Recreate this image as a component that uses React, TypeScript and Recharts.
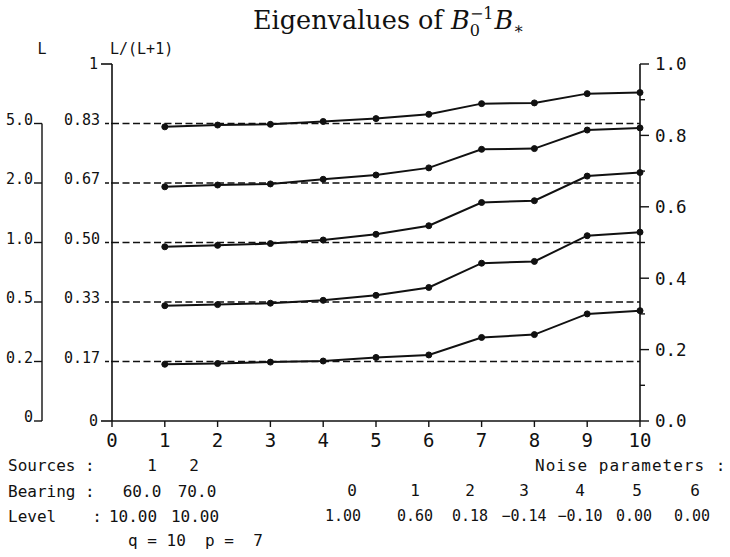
import { LineChart, Line, XAxis, YAxis, ReferenceLine } from 'recharts';

// x positions of the eigenvalue points
const X_POINTS = [1, 2, 3, 4, 5, 6, 7, 8, 9, 10];
const X_TICKS = [0, 1, 2, 3, 4, 5, 6, 7, 8, 9, 10];

// eigenvalues as L/(L+1), top curve first
const SERIES_1 = [0.824, 0.829, 0.831, 0.839, 0.847, 0.859, 0.889, 0.891, 0.917, 0.92];
const SERIES_2 = [0.656, 0.661, 0.664, 0.677, 0.689, 0.709, 0.761, 0.763, 0.815, 0.821];
const SERIES_3 = [0.488, 0.492, 0.497, 0.507, 0.523, 0.547, 0.612, 0.617, 0.686, 0.696];
const SERIES_4 = [0.323, 0.326, 0.33, 0.338, 0.352, 0.374, 0.442, 0.447, 0.519, 0.529];
const SERIES_5 = [0.159, 0.161, 0.165, 0.168, 0.178, 0.185, 0.234, 0.242, 0.3, 0.309];

// far-left scale (L) and the matching L/(L+1) scale
const L_VALUES = [0, 0.2, 0.5, 1.0, 2.0, 5.0];
const L_LABELS = ['0', '0.2', '0.5', '1.0', '2.0', '5.0'];
const FRAC_TICKS = [0, 1 / 6, 2 / 6, 3 / 6, 4 / 6, 5 / 6, 1];
const FRAC_LABELS = ['0', '0.17', '0.33', '0.50', '0.67', '0.83', '1'];
const RIGHT_TICKS = [0, 0.1, 0.2, 0.3, 0.4, 0.5, 0.6, 0.7, 0.8, 0.9, 1.0];

// text block under the chart
const SOURCES = ['1', '2'];
const BEARINGS = ['60.0', '70.0'];
const LEVELS = ['10.00', '10.00'];
const NOISE_INDEX = ['0', '1', '2', '3', '4', '5', '6'];
const NOISE_VALUES = ['1.00', '0.60', '0.18', '\u22120.14', '\u22120.10', '0.00', '0.00'];
const Q_VALUE = 10;
const P_VALUE = 7;

const W = 730;
const H = 557;
const MARGIN = { top: 64, right: 0, left: 0, bottom: 106 };
const X_AXIS_H = 30;
const PLOT_BOTTOM = H - MARGIN.bottom - X_AXIS_H;

const INK = '#111';
const MONO = '"DejaVu Sans Mono", monospace';

const L_TICKS = L_VALUES.map((l) => l / (l + 1));
const DASHED = L_TICKS.filter((v) => v > 0);

const chartData = X_POINTS.map((x, i) => ({
  x,
  s1: SERIES_1[i],
  s2: SERIES_2[i],
  s3: SERIES_3[i],
  s4: SERIES_4[i],
  s5: SERIES_5[i],
}));

const near = (a: number, b: number) => Math.abs(a - b) < 1e-6;

function FracTick({ x, y, payload }: any) {
  const i = FRAC_TICKS.findIndex((t) => near(t, payload.value));
  const label = FRAC_LABELS[i];
  if (i === 0 || i === FRAC_TICKS.length - 1) {
    return (
      <g>
        <line x1={x - 11} x2={x} y1={y} y2={y} stroke={INK} strokeWidth={1.6} />
        <text x={x - 14} y={y} dy="0.36em" textAnchor="end" fontSize={15} fontFamily={MONO} fill={INK}>
          {label}
        </text>
      </g>
    );
  }
  return (
    <g>
      <line x1={x - 7} x2={x} y1={y} y2={y} stroke={INK} strokeWidth={1.4} strokeDasharray="4 2" />
      <text x={x - 12} y={y + 1} textAnchor="end" fontSize={15} fontFamily={MONO} fill={INK}>
        {label}
      </text>
    </g>
  );
}

function LTick({ x, y, payload }: any) {
  const i = L_TICKS.findIndex((t) => near(t, payload.value));
  const top = i === L_TICKS.length - 1;
  return (
    <g>
      <line x1={x - 8} x2={x} y1={y} y2={y} stroke={INK} strokeWidth={1.4} />
      {top && <line x1={x} x2={x} y1={y} y2={PLOT_BOTTOM} stroke={INK} strokeWidth={1.4} />}
      <text x={x - 9} y={y + 1} textAnchor="end" fontSize={15} fontFamily={MONO} fill={INK}>
        {L_LABELS[i]}
      </text>
    </g>
  );
}

function RightTick({ x, y, payload }: any) {
  const v = payload.value;
  const major = Math.round(v * 10) % 2 === 0;
  return (
    <g>
      <line x1={x} x2={x + (major ? 9 : 5)} y1={y} y2={y} stroke={INK} strokeWidth={1.4} />
      {major && (
        <text x={x + 15} y={y} dy="0.36em" fontSize={17.5} fontFamily={MONO} fill={INK}>
          {v.toFixed(1)}
        </text>
      )}
    </g>
  );
}

function XTick({ x, y, payload }: any) {
  return (
    <g>
      <line x1={x} x2={x} y1={y} y2={y + 6} stroke={INK} strokeWidth={1.4} />
      <text x={x} y={y + 26} textAnchor="middle" fontSize={19} fontFamily={MONO} fill={INK}>
        {payload.value}
      </text>
    </g>
  );
}

const SERIES_KEYS = ['s1', 's2', 's3', 's4', 's5'];

export default function App() {
  const txt = { fontFamily: MONO, fontSize: 16, fill: INK } as const;
  const srcX = [152, 194];
  const bearX = [142, 197];
  const levelX = [133, 195];
  const idxX = [352, 415, 470, 524, 580, 637, 695];
  const valX = [343, 415, 470, 524, 580, 634, 692];

  return (
    <div style={{ position: 'absolute', left: 0, top: 0, width: W, height: H, background: '#fff' }}>
      <LineChart width={W} height={H} data={chartData} margin={MARGIN}>
        <XAxis
          dataKey="x"
          type="number"
          domain={[0, 10]}
          ticks={X_TICKS}
          interval={0}
          height={X_AXIS_H}
          axisLine={{ stroke: INK, strokeWidth: 1.6 }}
          tickLine={false}
          tickSize={0}
          tickMargin={0}
          tick={<XTick />}
        />
        <YAxis
          yAxisId="inner"
          type="number"
          domain={[0, 1]}
          ticks={FRAC_TICKS}
          interval={0}
          width={70}
          allowDataOverflow
          axisLine={{ stroke: INK, strokeWidth: 1.6 }}
          tickLine={false}
          tickSize={0}
          tickMargin={0}
          tick={<FracTick />}
        />
        <YAxis
          yAxisId="outer"
          type="number"
          domain={[0, 1]}
          ticks={L_TICKS}
          interval={0}
          width={42}
          allowDataOverflow
          axisLine={false}
          tickLine={false}
          tickSize={0}
          tickMargin={0}
          tick={<LTick />}
        />
        <YAxis
          yAxisId="right"
          orientation="right"
          type="number"
          domain={[0, 1]}
          ticks={RIGHT_TICKS}
          interval={0}
          width={90}
          allowDataOverflow
          axisLine={{ stroke: INK, strokeWidth: 1.6 }}
          tickLine={false}
          tickSize={0}
          tickMargin={0}
          tick={<RightTick />}
        />
        {DASHED.map((v) => (
          <ReferenceLine
            key={v}
            yAxisId="inner"
            y={v}
            stroke={INK}
            strokeWidth={1.5}
            strokeDasharray="7 3.5"
          />
        ))}
        {SERIES_KEYS.map((k) => (
          <Line
            key={k}
            yAxisId="inner"
            dataKey={k}
            type="linear"
            stroke={INK}
            strokeWidth={2}
            dot={{ r: 3, fill: INK, stroke: INK, strokeWidth: 1 }}
            isAnimationActive={false}
          />
        ))}
      </LineChart>

      <svg
        width={W}
        height={H}
        style={{ position: 'absolute', left: 0, top: 0, pointerEvents: 'none' }}
      >
        <text x={253} y={29} fontFamily='"DejaVu Serif", serif' fontSize={25.5} fill={INK}>
          Eigenvalues of <tspan fontStyle="italic">B</tspan>
          <tspan fontSize={16} dy={7}>0</tspan>
          <tspan fontSize={16} dx={-10} dy={-17}>{'\u22121'}</tspan>
          <tspan fontStyle="italic" dx={1} dy={10}>B</tspan>
          <tspan fontSize={16} dy={5}>{'\u2217'}</tspan>
        </text>

        <text x={42} y={54} textAnchor="middle" fontFamily={MONO} fontSize={15} fill={INK}>L</text>
        <text x={110} y={54} fontFamily={MONO} fontSize={15} fill={INK}>L/(L+1)</text>

        <text x={8} y={471} {...txt}>Sources :</text>
        {SOURCES.map((s, i) => (
          <text key={'s' + i} x={srcX[i]} y={471} textAnchor="middle" {...txt}>{s}</text>
        ))}
        <text x={535} y={471} letterSpacing={1} {...txt}>Noise parameters :</text>

        <text x={8} y={497} {...txt}>Bearing :</text>
        {BEARINGS.map((s, i) => (
          <text key={'b' + i} x={bearX[i]} y={497} textAnchor="middle" {...txt}>{s}</text>
        ))}
        {NOISE_INDEX.map((s, i) => (
          <text key={'n' + i} x={idxX[i]} y={496} textAnchor="middle" {...txt}>{s}</text>
        ))}

        <text x={8} y={522} {...txt}>Level</text>
        <text x={97} y={522} textAnchor="middle" {...txt}>:</text>
        {LEVELS.map((s, i) => (
          <text key={'l' + i} x={levelX[i]} y={522} textAnchor="middle" {...txt}>{s}</text>
        ))}
        {NOISE_VALUES.map((s, i) => (
          <text key={'v' + i} x={valX[i]} y={521} textAnchor="middle" {...txt} fontSize={15}>{s}</text>
        ))}

        <text x={128} y={546} style={{ whiteSpace: 'pre' }} {...txt}>
          {`q = ${Q_VALUE}  p =  ${P_VALUE}`}
        </text>
      </svg>
    </div>
  );
}
